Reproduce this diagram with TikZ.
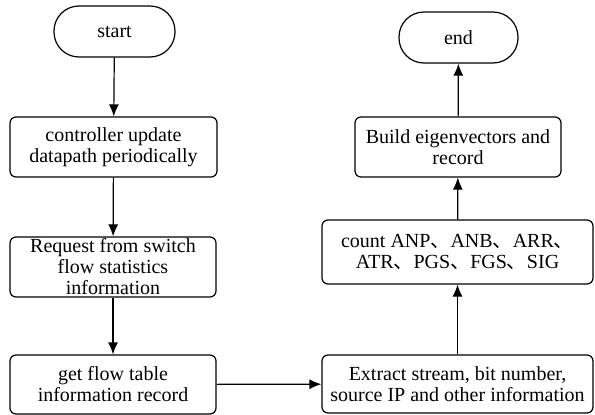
\documentclass[tikz,border=0pt]{standalone}
\usepackage{fontspec}
\setmainfont{Liberation Serif}
\newfontfamily\cjk{Noto Sans CJK SC}
\usetikzlibrary{arrows.meta}
\newcommand{\dun}{{\cjk 、}}
\begin{document}
\begin{tikzpicture}[x=1pt,y=-1pt,
  box/.style={draw, line width=1.2pt, rounded corners=6pt, align=center,
    font=\fontsize{20}{21}\selectfont, inner sep=0pt},
  term/.style={draw, line width=1.2pt, rounded corners=25pt, align=center,
    font=\fontsize{20}{21}\selectfont, inner sep=0pt},
  flow/.style={line width=1.2pt, -{Latex[length=12pt,width=10pt]}}]
\useasboundingbox (0,0) rectangle (595,415);
\node[term, minimum width=121pt, minimum height=51pt] (start) at (114.5,31.5) {start};
\node[term, minimum width=119pt, minimum height=51pt] (end) at (458.5,37.5) {end};
\node[box, minimum width=207pt, minimum height=60pt] (b1) at (113.5,147)
  {controller update\\datapath periodically};
\node[box, minimum width=206pt, minimum height=60pt] (b2) at (113,267)
  {Request from switch\\flow statistics\\information};
\node[box, minimum width=206pt, minimum height=59pt] (b3) at (113,384.5)
  {get flow table\\information record};
\node[box, minimum width=271pt, minimum height=58pt] (ext) at (457.5,384)
  {Extract stream, bit number,\\source IP and other information};
\node[box, minimum width=271pt, minimum height=64pt] (cnt) at (457.5,252)
  {count ANP\dun ANB\dun ARR\dun\\ATR\dun PGS\dun FGS\dun SIG};
\node[box, minimum width=206pt, minimum height=60pt] (bld) at (458,147)
  {Build eigenvectors and\\record};
\draw[flow] (start) -- (b1);
\draw[flow] (b1) -- (b2);
\draw[flow] (b2) -- (b3);
\draw[flow] (b3) -- (ext);
\draw[flow] (ext) -- (cnt);
\draw[flow] (cnt) -- (bld);
\draw[flow] (bld) -- (end);
\end{tikzpicture}
\end{document}
